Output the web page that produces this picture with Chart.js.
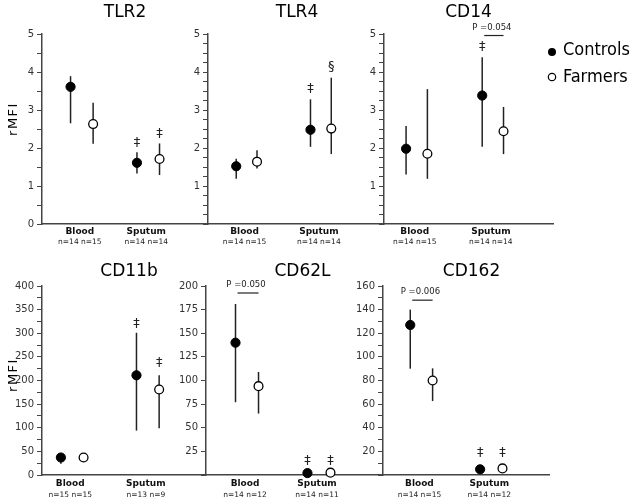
<!DOCTYPE html>
<html><head><meta charset="utf-8">
<script src="https://cdn.jsdelivr.net/npm/chart.js@4.4.1/dist/chart.umd.min.js"></script>
<style>
html,body{margin:0;padding:0;background:#fff;}
#wrap{position:relative;width:636px;height:503px;overflow:hidden;background:#fff;}
#wrap canvas{position:absolute;}
</style></head><body><div id="wrap"></div>
<script>
// ---- data ----
const panelTitles = ['TLR2','TLR4','CD14','CD11b','CD62L','CD162'];
const categories = ['Blood','Sputum'];
const seriesNames = ['Controls','Farmers'];
const controlsMean = [[3.61,1.61],[1.52,2.48],[1.98,3.38],[37,211],[140,2],[127,4.8]];
const controlsLow  = [[2.65,1.33],[1.19,2.03],[1.30,2.03],[24,94],[77,0],[90,3]];
const controlsHigh = [[3.89,1.89],[1.72,3.28],[2.58,4.39],[42,301],[181,3],[140,6]];
const farmersMean  = [[2.63,1.71],[1.64,2.51],[1.85,2.44],[37,181],[94,2.5],[80,5.6]];
const farmersLow   = [[2.11,1.29],[1.46,1.84],[1.19,1.84],[30,99],[65,0],[62.6,4]];
const farmersHigh  = [[3.19,2.12],[1.94,3.85],[3.55,3.08],[42,211],[109,4],[90.3,7]];
const nControls = [[14,14],[14,14],[14,14],[15,13],[14,14],[14,14]];
const nFarmers  = [[15,14],[15,14],[15,14],[15,9],[12,11],[15,12]];
const yMax = [5,5,5,400,200,160];
const yLabelStep = [1,1,1,50,25,20];
const yTickStep = [0.5,0.25,0.25,25,25,10];
const yFirstLabel = [0,1,1,0,25,20];
// significance marks: [panel, category, series (0 controls / 1 farmers), value, symbol]
const sigMarks = [
  [0,1,0,2.14,'‡'],[0,1,1,2.39,'‡'],
  [1,1,0,3.55,'‡'],[1,1,1,4.15,'§'],
  [2,1,0,4.66,'‡'],
  [3,1,0,321,'‡'],[3,1,1,238,'‡'],
  [4,1,0,15,'‡'],[4,1,1,15,'‡'],
  [5,1,0,19,'‡'],[5,1,1,19,'‡']
];
// p-value brackets: [panel, category, value, text]
const pBrackets = [[2,1,4.96,'P =0.054'],[4,0,192.6,'P =0.050'],[5,0,148,'P =0.006']];
const yAxisTitle = 'rMFI';

// ---- layout ----
const rows = [
  {top:0, height:250, areaTop:34, areaBottom:224, titleY:13, lab1:232, lab2:242, titleAxisY:119},
  {top:250, height:253, areaTop:286, areaBottom:475, titleY:272, lab1:484, lab2:495, titleAxisY:375}
];
const panelLayout = [
  {row:0, axisX:42,  right:208, xMin:0.40, xMax:2.90, off:0.17, tdx:0},
  {row:0, axisX:208, right:384, xMin:0.48, xMax:2.85, off:0.14, tdx:1},
  {row:0, axisX:384, right:553, xMin:0.57, xMax:2.79, off:0.14, tdx:0, legend:true},
  {row:1, axisX:42,  right:206, xMin:0.60, xMax:2.77, off:0.15, tdx:5},
  {row:1, axisX:206, right:383, xMin:0.43, xMax:2.89, off:0.16, tdx:8},
  {row:1, axisX:383, right:550, xMin:0.45, xMax:2.84, off:0.16, tdx:5}
];
const FONT = '"DejaVu Sans", Verdana, sans-serif';
const AXIS = '#444';

Chart.defaults.font.family = FONT;

const wrap = document.getElementById('wrap');

panelTitles.forEach((title, p) => {
  const L = panelLayout[p];
  const R = rows[L.row];
  const cLeft = L.axisX - 42;
  const cWidth = L.legend ? 636 - cLeft : L.right - cLeft;
  const padRight = L.legend ? 636 - L.right : 0;
  const cv = document.createElement('canvas');
  cv.width = cWidth; cv.height = R.height;
  cv.style.left = cLeft + 'px'; cv.style.top = R.top + 'px';
  cv.style.width = cWidth + 'px'; cv.style.height = R.height + 'px';
  wrap.appendChild(cv);

  const xPos = (c, s) => (c + 1) + (s === 0 ? -L.off : L.off);
  const means = [controlsMean[p], farmersMean[p]];
  const lows = [controlsLow[p], farmersLow[p]];
  const highs = [controlsHigh[p], farmersHigh[p]];

  const extras = {
    id: 'extras' + p,
    beforeDatasetsDraw(chart) {
      const ctx = chart.ctx, xs = chart.scales.x, ys = chart.scales.y;
      ctx.save();
      ctx.strokeStyle = '#222'; ctx.lineWidth = 1.5;
      for (let s = 0; s < 2; s++) {
        categories.forEach((c, i) => {
          const px = xs.getPixelForValue(xPos(i, s));
          ctx.beginPath();
          ctx.moveTo(px, ys.getPixelForValue(lows[s][i]));
          ctx.lineTo(px, ys.getPixelForValue(highs[s][i]));
          ctx.stroke();
        });
      }
      ctx.restore();
    },
    afterDatasetsDraw(chart) {
      const ctx = chart.ctx, xs = chart.scales.x, ys = chart.scales.y, ca = chart.chartArea;
      ctx.save();
      ctx.fillStyle = '#000';
      // title
      ctx.font = '17px ' + FONT;
      ctx.textAlign = 'center'; ctx.textBaseline = 'middle';
      ctx.fillText(title, (ca.left + ca.right) / 2 + L.tdx, R.titleY - R.top);
      // category labels
      categories.forEach((c, i) => {
        const px = xs.getPixelForValue(i + 1);
        ctx.fillStyle = '#111';
        ctx.font = 'bold 9px ' + FONT;
        ctx.fillText(c, px - 2, R.lab1 - R.top);
        ctx.fillStyle = '#222';
        ctx.font = '7.5px ' + FONT;
        ctx.fillText('n=' + nControls[p][i] + ' n=' + nFarmers[p][i], px - 2, R.lab2 - R.top);
      });
      // significance marks
      ctx.fillStyle = '#222';
      ctx.font = '13px ' + FONT;
      sigMarks.filter(m => m[0] === p).forEach(m => {
        ctx.fillText(m[4], xs.getPixelForValue(xPos(m[1], m[2])), ys.getPixelForValue(m[3]));
      });
      // p brackets
      pBrackets.filter(b => b[0] === p).forEach(b => {
        const x1 = xs.getPixelForValue(xPos(b[1], 0)) + 2;
        const x2 = xs.getPixelForValue(xPos(b[1], 1));
        const py = ys.getPixelForValue(b[2]);
        ctx.strokeStyle = '#222'; ctx.lineWidth = 1.2;
        ctx.beginPath(); ctx.moveTo(x1, py); ctx.lineTo(x2, py); ctx.stroke();
        ctx.font = '8.5px ' + FONT;
        ctx.fillText(b[3], (x1 + x2) / 2 - 2, py - 8);
      });
      // y-axis title
      if (L.axisX === 42) {
        ctx.save();
        ctx.translate(14 - cLeft, R.titleAxisY - R.top);
        ctx.rotate(-Math.PI / 2);
        ctx.font = '13px ' + FONT;
        try { ctx.letterSpacing = '1.5px'; } catch (e) {}
        ctx.fillStyle = '#000';
        ctx.fillText(yAxisTitle, 0, 0);
        ctx.restore();
      }
      // legend
      if (L.legend) {
        const lx = 552 - cLeft;
        ctx.font = '18px "DejaVu Sans Condensed", "Liberation Sans", sans-serif';
        ctx.textAlign = 'left';
        ctx.fillStyle = '#000';
        ctx.beginPath(); ctx.arc(lx, 52, 4, 0, Math.PI * 2); ctx.fill();
        ctx.fillText(seriesNames[0], lx + 11, 50);
        ctx.beginPath(); ctx.arc(lx, 77, 3.7, 0, Math.PI * 2);
        ctx.fillStyle = '#fff'; ctx.fill();
        ctx.strokeStyle = '#000'; ctx.lineWidth = 1.2; ctx.stroke();
        ctx.fillStyle = '#000';
        ctx.fillText(seriesNames[1], lx + 11, 77);
      }
      ctx.restore();
    }
  };

  new Chart(cv, {
    type: 'scatter',
    data: {
      datasets: [
        {
          label: seriesNames[0],
          data: categories.map((c, i) => ({x: xPos(i, 0), y: means[0][i]})),
          pointRadius: 4.6, pointBackgroundColor: '#000', pointBorderColor: '#000',
          pointBorderWidth: 1, showLine: false, clip: false
        },
        {
          label: seriesNames[1],
          data: categories.map((c, i) => ({x: xPos(i, 1), y: means[1][i]})),
          pointRadius: 4.4, pointBackgroundColor: '#fff', pointBorderColor: '#000',
          pointBorderWidth: 1.3, showLine: false, clip: false
        }
      ]
    },
    options: {
      responsive: false, animation: false, devicePixelRatio: 1,
      layout: {autoPadding: false, padding: {top: R.areaTop - R.top, right: padRight, bottom: 0, left: 0}},
      plugins: {legend: {display: false}, tooltip: {enabled: false}, title: {display: false}},
      scales: {
        x: {
          type: 'linear', min: L.xMin, max: L.xMax,
          grid: {display: false, drawTicks: false},
          ticks: {display: false},
          border: {display: true, color: AXIS, width: 1.5},
          afterFit(s) { s.height = R.top + R.height - R.areaBottom; }
        },
        y: {
          type: 'linear', min: 0, max: yMax[p],
          grid: {drawOnChartArea: false, drawTicks: true, tickLength: 5, color: AXIS, lineWidth: 1},
          border: {display: true, color: AXIS, width: 1.5},
          ticks: {
            stepSize: yTickStep[p], autoSkip: false, padding: 3,
            color: '#333', font: {size: 10, family: FONT},
            callback(v) {
              const k = v / yLabelStep[p];
              return (Math.abs(k - Math.round(k)) < 1e-6 && v >= yFirstLabel[p]) ? String(v) : '';
            }
          },
          afterFit(s) { s.width = 42; }
        }
      }
    },
    plugins: [extras]
  });
});
</script></body></html>
